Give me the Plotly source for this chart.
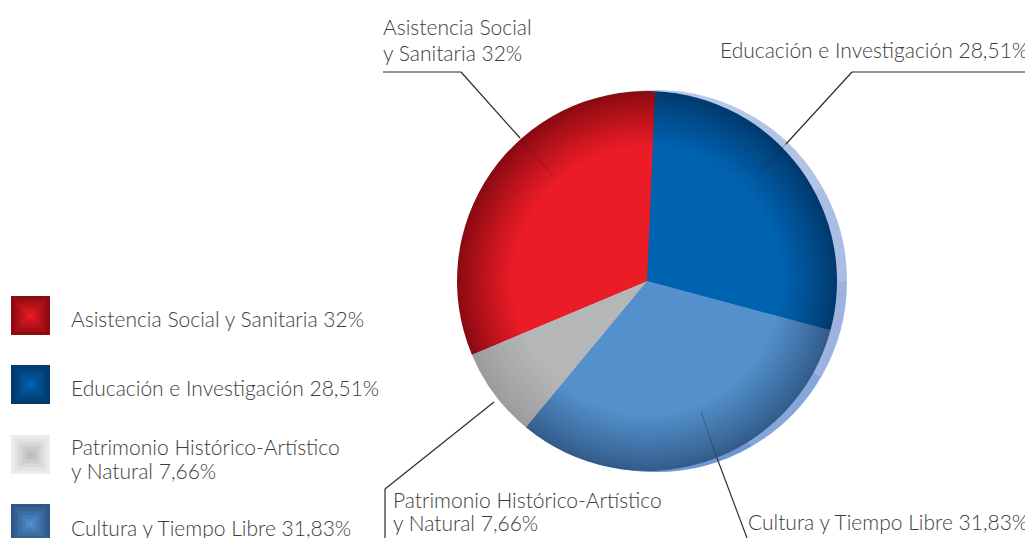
import plotly.graph_objects as go

# page body has an 8px margin, so the figure is drawn 8px right/down of the window corner
OFF = 8
FW, FH = 1033 - OFF, 538 - OFF

# ---------------- data ----------------
categories = ["Educación e Investigación", "Cultura y Tiempo Libre",
              "Patrimonio Histórico-Artístico y Natural", "Asistencia Social y Sanitaria"]
shares = [28.51, 31.83, 7.66, 32.00]
share_text = ["28,51%", "31,83%", "7,66%", "32%"]

legend_order = ["Asistencia Social y Sanitaria", "Educación e Investigación",
                "Patrimonio Histórico-Artístico y Natural", "Cultura y Tiempo Libre"]
legend_lines = [["Asistencia Social y Sanitaria 32%"], ["Educación e Investigación 28,51%"],
                ["Patrimonio Histórico-Artístico", "y Natural 7,66%"], ["Cultura y Tiempo Libre 31,83%"]]
slice_label_lines = [["Educación e Investigación 28,51%"], ["Cultura y Tiempo Libre 31,83%"],
                     ["Patrimonio Histórico-Artístico", "y Natural 7,66%"],
                     ["Asistencia Social", "y Sanitaria 32%"]]

# ---------------- styles ----------------
base_col = ["#0063b2", "#5390cc", "#b5b6b8", "#ec1c27"]
edge_col = ["#013a6e", "#335c8a", "#9b9c9e", "#8a0b12"]
legend_outer = {"Asistencia Social y Sanitaria": "#8e0a10", "Educación e Investigación": "#023a6e",
                "Patrimonio Histórico-Artístico y Natural": "#ececed", "Cultura y Tiempo Libre": "#2f5887"}
legend_inner = {"Asistencia Social y Sanitaria": "#ee1c25", "Educación e Investigación": "#0064b4",
                "Patrimonio Histórico-Artístico y Natural": "#b8b9bb", "Cultura y Tiempo Libre": "#5191d2"}

CX, CY, R, R_IN = 647, 281, 190, 135
ROT = 2.4
TEXT = "#3d3d3d"
FONT = dict(family="Lato, 'Open Sans', sans-serif", size=21, color=TEXT, weight=300)


def hx(c):
    c = c.lstrip("#")
    return [int(c[i:i + 2], 16) for i in (0, 2, 4)]


def mix(a, b, t):
    a, b = hx(a), hx(b)
    return "#%02x%02x%02x" % tuple(round(a[i] + (b[i] - a[i]) * t) for i in range(3))


def px(x):
    return (x - OFF) / FW


def py(y):
    return 1 - (y - OFF) / FH


def dom(cx, cy, r):
    return dict(x=[px(cx - r), px(cx + r)], y=[py(cy + r), py(cy - r)])


fig = go.Figure()

# shadow crescent behind the pie (angular gradient, light at top, darker at bottom)
shadow_cols = ["#b7c8e8", "#b2c4e6", "#aabee3", "#9cb3df", "#86a5d8", "#7097d2",
               "#7097d2", "#86a5d8", "#9cb3df", "#aabee3", "#b2c4e6", "#b7c8e8"]
fig.add_trace(go.Pie(values=[1] * len(shadow_cols), sort=False, direction="clockwise", rotation=0,
                     marker=dict(colors=shadow_cols, line=dict(width=0)), textinfo="none",
                     hoverinfo="skip", showlegend=False, domain=dom(CX + 9, CY, R + 1)))

# layered discs giving the shaded rim
NL = 18
for k in range(NL + 1):
    r = R - (R - R_IN) * k / NL
    t = k / NL
    cols = [mix(e, b, t ** 0.9) for e, b in zip(edge_col, base_col)]
    fig.add_trace(go.Pie(values=shares, labels=categories, sort=False, direction="clockwise",
                         rotation=ROT, marker=dict(colors=cols, line=dict(width=0)),
                         textinfo="none", hoverinfo="label+percent", showlegend=False,
                         domain=dom(CX, CY, r)))

shapes = []
annotations = []


def text_at(txt, x, y, anchor):
    annotations.append(dict(text=txt, x=px(x), y=py(y), xref="paper", yref="paper",
                            xanchor=anchor, yanchor="middle", align=anchor, showarrow=False,
                            font=FONT))


# legend: gradient squares + text
sq_top = [296, 365, 435, 504]
txt_y = [[318], [387], [446, 470], [527]]
for name, lines, top, ys in zip(legend_order, legend_lines, sq_top, txt_y):
    x0, size = 11, 39
    steps = 6
    for s in range(steps):
        inset = s * 3.6
        col = mix(legend_outer[name], legend_inner[name], s / (steps - 1))
        shapes.append(dict(type="rect", xref="paper", yref="paper",
                           x0=px(x0 + inset), x1=px(x0 + size - inset),
                           y0=py(top + size - inset), y1=py(top + inset),
                           fillcolor=col, line=dict(width=0), layer="above"))
    for ln, y in zip(lines, ys):
        text_at(ln, 69, y, "left")

# slice labels
lab_pos = {
    "Educación e Investigación": (1030, [50], "right"),
    "Cultura y Tiempo Libre": (1030, [521], "right"),
    "Patrimonio Histórico-Artístico y Natural": (391, [499, 522], "left"),
    "Asistencia Social y Sanitaria": (381, [27, 53], "left"),
}
for name, lines in zip(categories, slice_label_lines):
    x, ys, anc = lab_pos[name]
    for ln, y in zip(lines, ys):
        text_at(ln, x, y, anc)

# leader lines
LINE = dict(color="#2b2b2b", width=1.2)
FAINT = dict(color="rgba(30,30,30,0.35)", width=1)


def seg(a, b, line):
    shapes.append(dict(type="line", xref="paper", yref="paper", x0=px(a[0]), y0=py(a[1]),
                       x1=px(b[0]), y1=py(b[1]), line=line, layer="above"))


seg((383, 72), (461, 72), LINE)
seg((461, 72), (520, 138), LINE)
seg((520, 138), (553, 176), FAINT)
seg((1026, 72), (852, 72), LINE)
seg((852, 72), (786, 144), LINE)
seg((786, 144), (760, 170), FAINT)
seg((494, 402), (385, 489), LINE)
seg((385, 489), (385, 538), LINE)
seg((717, 458), (747, 538), LINE)
seg((701, 412), (717, 458), FAINT)

fig.update_layout(width=FW, height=FH, margin=dict(l=0, r=0, t=0, b=0),
                  paper_bgcolor="white", plot_bgcolor="white",
                  shapes=shapes, annotations=annotations, showlegend=False)

fig.write_html("out.html")
